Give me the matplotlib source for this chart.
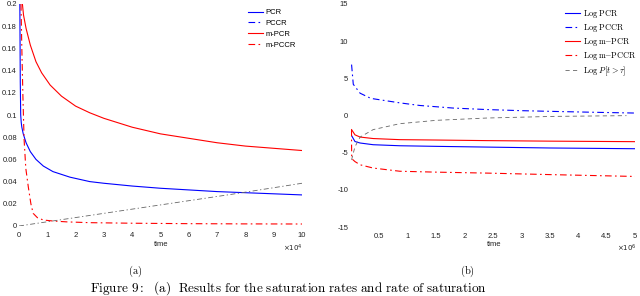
import matplotlib
matplotlib.use("Agg")
import matplotlib.pyplot as plt

plt.rcParams['font.family'] = ['Liberation Sans', 'DejaVu Sans']
plt.rcParams['mathtext.fontset'] = 'cm'

# ---- panel (a): rates vs time ----
pcr_t = [300, 450, 600, 800, 1000, 1500, 2500, 4000, 6000, 8600, 12000, 15000, 18000,
         25000, 30000, 40000, 50000, 60000, 70000, 80000, 90000, 100000]
pcr_v = [0.2, 0.13, 0.1, 0.093, 0.089, 0.083, 0.075, 0.067, 0.060, 0.054, 0.049, 0.0465,
         0.044, 0.040, 0.0385, 0.036, 0.034, 0.0325, 0.031, 0.030, 0.029, 0.028]

mpcr_t = [1200, 1600, 2500, 4000, 6000, 8000, 11000, 15000, 20000, 25000, 30000, 40000,
          50000, 60000, 70000, 80000, 90000, 100000]
mpcr_v = [0.2, 0.19, 0.178, 0.163, 0.148, 0.138, 0.127, 0.117, 0.108, 0.102, 0.097,
          0.089, 0.083, 0.079, 0.075, 0.072, 0.070, 0.068]

mpccr_t = [700, 1000, 1400, 1800, 2400, 3300, 4200, 5000, 6500, 8600, 12000, 17000,
           25000, 40000, 60000, 80000, 100000]
mpccr_v = [0.2, 0.16, 0.115, 0.078, 0.052, 0.035, 0.02, 0.0114, 0.0075, 0.0054, 0.0045,
           0.0037, 0.003, 0.0025, 0.0021, 0.0019, 0.0018]

prob_t = [0, 25000, 50000, 75000, 100000]
prob_v = [0, 0.0095, 0.019, 0.0285, 0.0385]

# ---- panel (b): log rates vs time ----
log_pccr_t = [0.01e6, 0.04e6, 0.16e6, 0.35e6, 0.86e6, 1.21e6, 1.8e6, 2.39e6, 3.0e6,
              3.56e6, 4.3e6, 5.0e6]
log_pccr_v = [6.85, 4.2, 3.0, 2.3, 1.7, 1.35, 1.0, 0.8, 0.65, 0.55, 0.43, 0.33]

log_pcr_t = [0.01e6, 0.07e6, 0.16e6, 0.39e6, 0.86e6, 1.5e6, 2.4e6, 3.5e6, 5.0e6]
log_pcr_v = [-2.7, -3.5, -3.7, -3.93, -4.07, -4.15, -4.25, -4.37, -4.47]

log_mpcr_t = [0.01e6, 0.07e6, 0.16e6, 0.39e6, 0.86e6, 1.5e6, 2.4e6, 3.5e6, 5.0e6]
log_mpcr_v = [-1.9, -2.6, -2.9, -3.1, -3.25, -3.3, -3.38, -3.45, -3.52]

log_mpccr_t = [0.008e6, 0.012e6, 0.07e6, 0.16e6, 0.39e6, 0.86e6, 1.5e6, 2.4e6, 3.5e6, 5.0e6]
log_mpccr_v = [-1.9, -5.8, -6.2, -6.63, -7.07, -7.5, -7.62, -7.75, -7.95, -8.2]

log_prob_t = [0.01e6, 0.07e6, 0.16e6, 0.39e6, 0.86e6, 1.5e6, 2.39e6, 3.56e6, 4.85e6]
log_prob_v = [-5.96, -4.2, -2.9, -1.9, -1.1, -0.65, -0.34, -0.12, -0.02]

W, H = 640, 296
fig = plt.figure(figsize=(W / 100, H / 100), dpi=100)

dashdot = (0, (6, 3, 1.5, 3))
lw = 0.8


def px_axes(x0, x1, ytop, ybot):
    return fig.add_axes([x0 / W, (H - ybot) / H, (x1 - x0) / W, (ybot - ytop) / H])


def clean(ax, ypad):
    for s in ax.spines.values():
        s.set_visible(False)
    ax.tick_params(length=0, labelsize=5.5, colors='#222222')
    ax.tick_params(axis='x', pad=4)
    ax.tick_params(axis='y', pad=ypad)


# left panel
ax1 = px_axes(19, 302, 4, 226)
ax1.plot(pcr_t, pcr_v, color='blue', lw=lw, label='PCR')
ax1.plot([], [], color='blue', lw=lw, ls=dashdot, label='PCCR')
ax1.plot(mpcr_t, mpcr_v, color='red', lw=lw, label='m-PCR')
ax1.plot(mpccr_t, mpccr_v, color='red', lw=lw, ls=dashdot, label='m-PCCR')
ax1.plot(prob_t, prob_v, color='#666666', lw=0.6, ls=dashdot)
ax1.set_xlim(0, 1e5)
ax1.set_ylim(0, 0.2)
ax1.set_xticks([i * 1e4 for i in range(11)])
ax1.set_xticklabels([str(i) for i in range(11)])
ax1.set_yticks([0, 0.02, 0.04, 0.06, 0.08, 0.1, 0.12, 0.14, 0.16, 0.18, 0.2])
ax1.set_yticklabels(['0', '0.02', '0.04', '0.06', '0.08', '0.1', '0.12', '0.14',
                     '0.16', '0.18', '0.2'])
clean(ax1, 1.5)
ax1.legend(loc='upper left', bbox_to_anchor=(248 / W, 1 - 9 / H),
           bbox_transform=fig.transFigure, frameon=False, fontsize=5.5,
           handlelength=1.9, handletextpad=0.4, labelspacing=0.45, borderpad=0,
           borderaxespad=0)
fig.text(161 / W, 1 - 245 / H, 'time', fontsize=5.5, ha='center', va='center', color='#222222')
fig.text(303 / W, 1 - 248 / H, r'$\times 10^4$', fontsize=5, ha='right', va='center',
         color='#222222', family='DejaVu Sans', math_fontfamily='dejavusans')

# right panel
ax2 = px_axes(351, 635, 4, 227)
ax2.plot(log_pcr_t, log_pcr_v, color='blue', lw=lw, label=r'$\mathrm{Log\ PCR}$')
ax2.plot(log_pccr_t, log_pccr_v, color='blue', lw=lw, ls=dashdot, label=r'$\mathrm{Log\ PCCR}$')
ax2.plot(log_mpcr_t, log_mpcr_v, color='red', lw=lw, label=r'$\mathrm{Log\ m\!\!-\!\!PCR}$')
ax2.plot(log_mpccr_t, log_mpccr_v, color='red', lw=lw, ls=dashdot,
         label=r'$\mathrm{Log\ m\!\!-\!\!PCCR}$')
ax2.plot(log_prob_t, log_prob_v, color='#666666', lw=0.6, ls=(0, (5, 4)),
         label=r'$\mathrm{Log}\ P[t>\tau]$')
ax2.set_xlim(0, 5e6)
ax2.set_ylim(-15, 15)
ax2.set_xticks([0.5e6 * i for i in range(1, 11)])
ax2.set_xticklabels(['0.5', '1', '1.5', '2', '2.5', '3', '3.5', '4', '4.5', '5'])
ax2.set_yticks([-15, -10, -5, 0, 5, 10, 15])
ax2.set_yticklabels(['-15', '-10', '-5', '0', '5', '10', '15'])
clean(ax2, 2)
ax2.legend(loc='upper left', bbox_to_anchor=(565 / W, 1 - 8 / H),
           bbox_transform=fig.transFigure, frameon=False, fontsize=6,
           handlelength=1.8, handletextpad=0.4, labelspacing=0.25, borderpad=0,
           borderaxespad=0)
fig.text(494 / W, 1 - 245 / H, 'time', fontsize=5.5, ha='center', va='center', color='#222222')
fig.text(637 / W, 1 - 248 / H, r'$\times 10^6$', fontsize=5, ha='right', va='center',
         color='#222222', family='DejaVu Sans', math_fontfamily='dejavusans')

# sub-captions and figure caption
fig.text(135 / W, 1 - 271 / H, r'$\mathrm{(a)}$', fontsize=7.5, ha='center', va='center')
fig.text(467 / W, 1 - 271 / H, r'$\mathrm{(b)}$', fontsize=7.5, ha='center', va='center')
fig.text(90 / W, 1 - 292 / H,
         r'$\mathrm{Figure\ 9{:}\ \ (a)\ \ Results\ for\ the\ saturation\ rates\ and\ rate\ of\ saturation}$',
         fontsize=9.5, ha='left', va='baseline')

fig.savefig('out.png', dpi=100)
